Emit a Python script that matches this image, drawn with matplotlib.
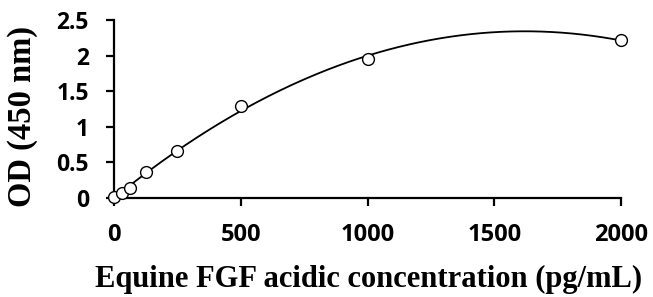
import numpy as np
import matplotlib.pyplot as plt

# standard curve readings
conc = [0, 31.25, 62.5, 125, 250, 500, 1000, 2000]
od = [0.01, 0.07, 0.145, 0.36, 0.665, 1.29, 1.95, 2.22]

x_ticks = [0, 500, 1000, 1500, 2000]
y_ticks = [0, 0.5, 1, 1.5, 2, 2.5]
y_tick_labels = ['0', '0.5', '1', '1.5', '2', '2.5']

# second order trend line, like the spreadsheet one
coef = np.polyfit(conc, od, 2)
xs = np.linspace(0, 2000, 300)
ys = np.polyval(coef, xs)

fig = plt.figure(figsize=(6.53, 2.97), dpi=100)
ax = fig.add_axes([0.1746, 0.3333, 0.9510 - 0.1746, 0.9327 - 0.3333])

ax.plot(xs, ys, color='black', linewidth=1.3, zorder=2)
ax.plot(conc, od, 'o', markersize=8.5, markerfacecolor='white',
        markeredgecolor='black', markeredgewidth=1.0, zorder=3, clip_on=False)

ax.set_xlim(0, 2000)
ax.set_ylim(0, 2.5)
ax.set_xticks(x_ticks)
ax.set_yticks(y_ticks)
ax.set_yticklabels(y_tick_labels)

for side in ['top', 'right']:
    ax.spines[side].set_visible(False)
for side in ['left', 'bottom']:
    ax.spines[side].set_linewidth(1.6)

ax.tick_params(direction='out', length=6, width=1.6)
ax.tick_params(axis='y', pad=12)
ax.tick_params(axis='x', pad=12)
for lab in ax.get_yticklabels():
    lab.set_fontfamily('Open Sans')
    lab.set_fontweight('bold')
    lab.set_fontsize(16.5)
for lab in ax.get_xticklabels():
    lab.set_fontfamily('Open Sans')
    lab.set_fontweight('bold')
    lab.set_fontsize(17)

ax.set_xlabel('Equine FGF acidic concentration (pg/mL)', fontsize=22,
              fontweight='bold', family='Liberation Serif')
ax.set_ylabel('OD (450 nm)', fontsize=23.5, fontweight='bold',
              family='Liberation Serif')
ax.xaxis.set_label_coords(0.502, -0.46)
ax.xaxis.label.set_va('center')
ax.yaxis.set_label_coords(-0.18, 0.46)
ax.yaxis.label.set_va('center')

fig.savefig('out.png', dpi=100)
